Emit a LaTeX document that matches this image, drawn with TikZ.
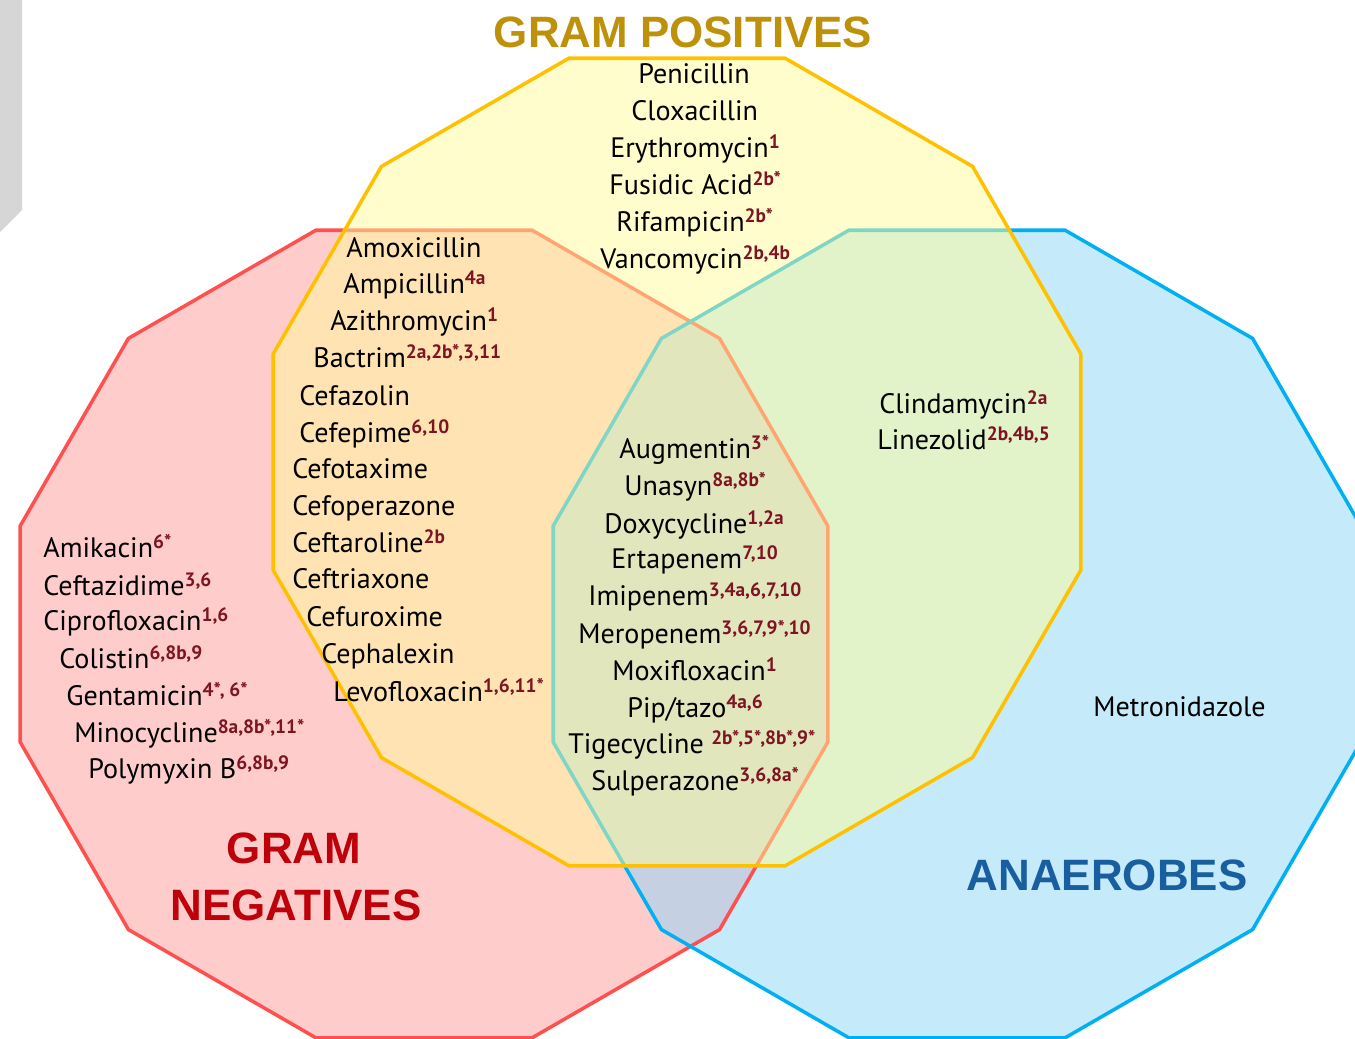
\documentclass[tikz,border=0pt]{standalone}
\usepackage{xcolor}
\definecolor{gnline}{RGB}{255,80,80}
\definecolor{gnfill}{RGB}{255,153,153}
\definecolor{gpline}{RGB}{255,192,0}
\definecolor{gpfill}{RGB}{255,251,153}
\definecolor{anline}{RGB}{0,176,240}
\definecolor{anfill}{RGB}{140,215,248}
\definecolor{sidegray}{RGB}{214,214,214}
\definecolor{refred}{RGB}{125,20,35}
\definecolor{gptitle}{RGB}{190,145,10}
\definecolor{gntitle}{RGB}{190,0,10}
\definecolor{antitle}{RGB}{25,95,160}
\usepackage{fontspec}
\setmainfont{PT Sans}
\newfontfamily\titlefont{Liberation Sans}
\usepackage{tikz}

\newcommand{\drugref}[1]{\raisebox{5pt}{\fontsize{11}{11}\selectfont\bfseries\color{refred}#1}}

\begin{document}
\begin{tikzpicture}[x=0.02cm, y=-0.02cm, font=\fontsize{16}{19}\selectfont,
    drug/.style={anchor=base west, inner sep=0pt},
    title/.style={anchor=base, inner sep=0pt, font=\titlefont\bfseries\fontsize{25}{28}\selectfont}]
\useasboundingbox (0,0) rectangle (1355,1038);
\clip (0,0) rectangle (1355,1038);

% Side tab
\fill[sidegray] (0,0) -- (22,0) -- (22,210) -- (0,232) -- cycle;

% Dodecagons
\fill[gnfill, fill opacity=0.5] plot[samples at={15,45,...,345}] ({424+418*cos(\x)},{634+418*sin(\x)}) -- cycle;
\fill[anfill, fill opacity=0.5] plot[samples at={15,45,...,345}] ({957+418*cos(\x)},{634+418*sin(\x)}) -- cycle;
\draw[gnline, line width=2pt] plot[samples at={15,45,...,345}] ({424+418*cos(\x)},{634+418*sin(\x)}) -- cycle;
\draw[anline, line width=2pt] plot[samples at={15,45,...,345}] ({957+418*cos(\x)},{634+418*sin(\x)}) -- cycle;
\fill[gpfill, fill opacity=0.5] plot[samples at={15,45,...,345}] ({677+418*cos(\x)},{462+418*sin(\x)}) -- cycle;
\draw[gpline, line width=2pt] plot[samples at={15,45,...,345}] ({677+418*cos(\x)},{462+418*sin(\x)}) -- cycle;

% Titles
\node[title, text=gptitle] (gptitle) at (683,47) {GRAM POSITIVES};
\node[title, text=gntitle] (gntitleA) at (294,863) {GRAM};
\node[title, text=gntitle] (gntitleB) at (296,920) {NEGATIVES};
\node[title, text=antitle] (antitle) at (1107,890) {ANAEROBES};

% Gram positives only
\foreach \x/\y/\drug/\refn [count=\i] in {638/83/Penicillin/{}, 631/120/Cloxacillin/{},
    610/157/Erythromycin/1, 609/194/Fusidic Acid/2b*, 616/231/Rifampicin/2b*,
    600/268/Vancomycin/{2b,4b}} {
    \node[drug] (gp\i) at (\x,\y) {\drug\drugref{\refn}};
}

% Gram positives and negatives
\foreach \x/\y/\drug/\refn [count=\i] in {346/257/Amoxicillin/{}, 343/293/Ampicillin/4a,
    330/330/Azithromycin/1, 313/367/Bactrim/{2a,2b*,3,11}, 299/405/Cefazolin/{},
    299/442/Cefepime/{6,10}, 292/478/Cefotaxime/{}, 292/515/Cefoperazone/{},
    292/552/Ceftaroline/2b, 292/588/Ceftriaxone/{}, 306/626/Cefuroxime/{},
    321/663/Cephalexin/{}, 333/701/Levofloxacin/{1,6,11*}} {
    \node[drug] (gpgn\i) at (\x,\y) {\drug\drugref{\refn}};
}

% Gram negatives only
\foreach \x/\y/\drug/\refn [count=\i] in {43/557/Amikacin/6*, 43/595/Ceftazidime/{3,6},
    43/630/Ciprofloxacin/{1,6}, 59/668/Colistin/{6,8b,9}, 66/705/Gentamicin/{4*, 6*},
    74/742/Minocycline/{8a,8b*,11*}, 88/778/Polymyxin B/{6,8b,9}} {
    \node[drug] (gn\i) at (\x,\y) {\drug\drugref{\refn}};
}

% All three
\foreach \x/\y/\drug/\refn [count=\i] in {619/458/Augmentin/3*, 624/495/Unasyn/{8a,8b*},
    604/533/Doxycycline/{1,2a}, 611/568/Ertapenem/{7,10}, 588/605/Imipenem/{3,4a,6,7,10},
    578/643/Meropenem/{3,6,7,9*,10}, 612/680/Moxifloxacin/1, 627/717/{Pip/tazo}/{4a,6},
    568/753/{Tigecycline\ }/{2b*,5*,8b*,9*}, 591/790/Sulperazone/{3,6,8a*}} {
    \node[drug] (all\i) at (\x,\y) {\drug\drugref{\refn}};
}

% Gram positives and anaerobes
\node[drug] (gpan1) at (879,413) {Clindamycin\drugref{2a}};
\node[drug] (gpan2) at (877,449) {Linezolid\drugref{2b,4b,5}};

% Anaerobes only
\node[drug] (metro) at (1093,716) {Metronidazole};
\end{tikzpicture}
\end{document}
